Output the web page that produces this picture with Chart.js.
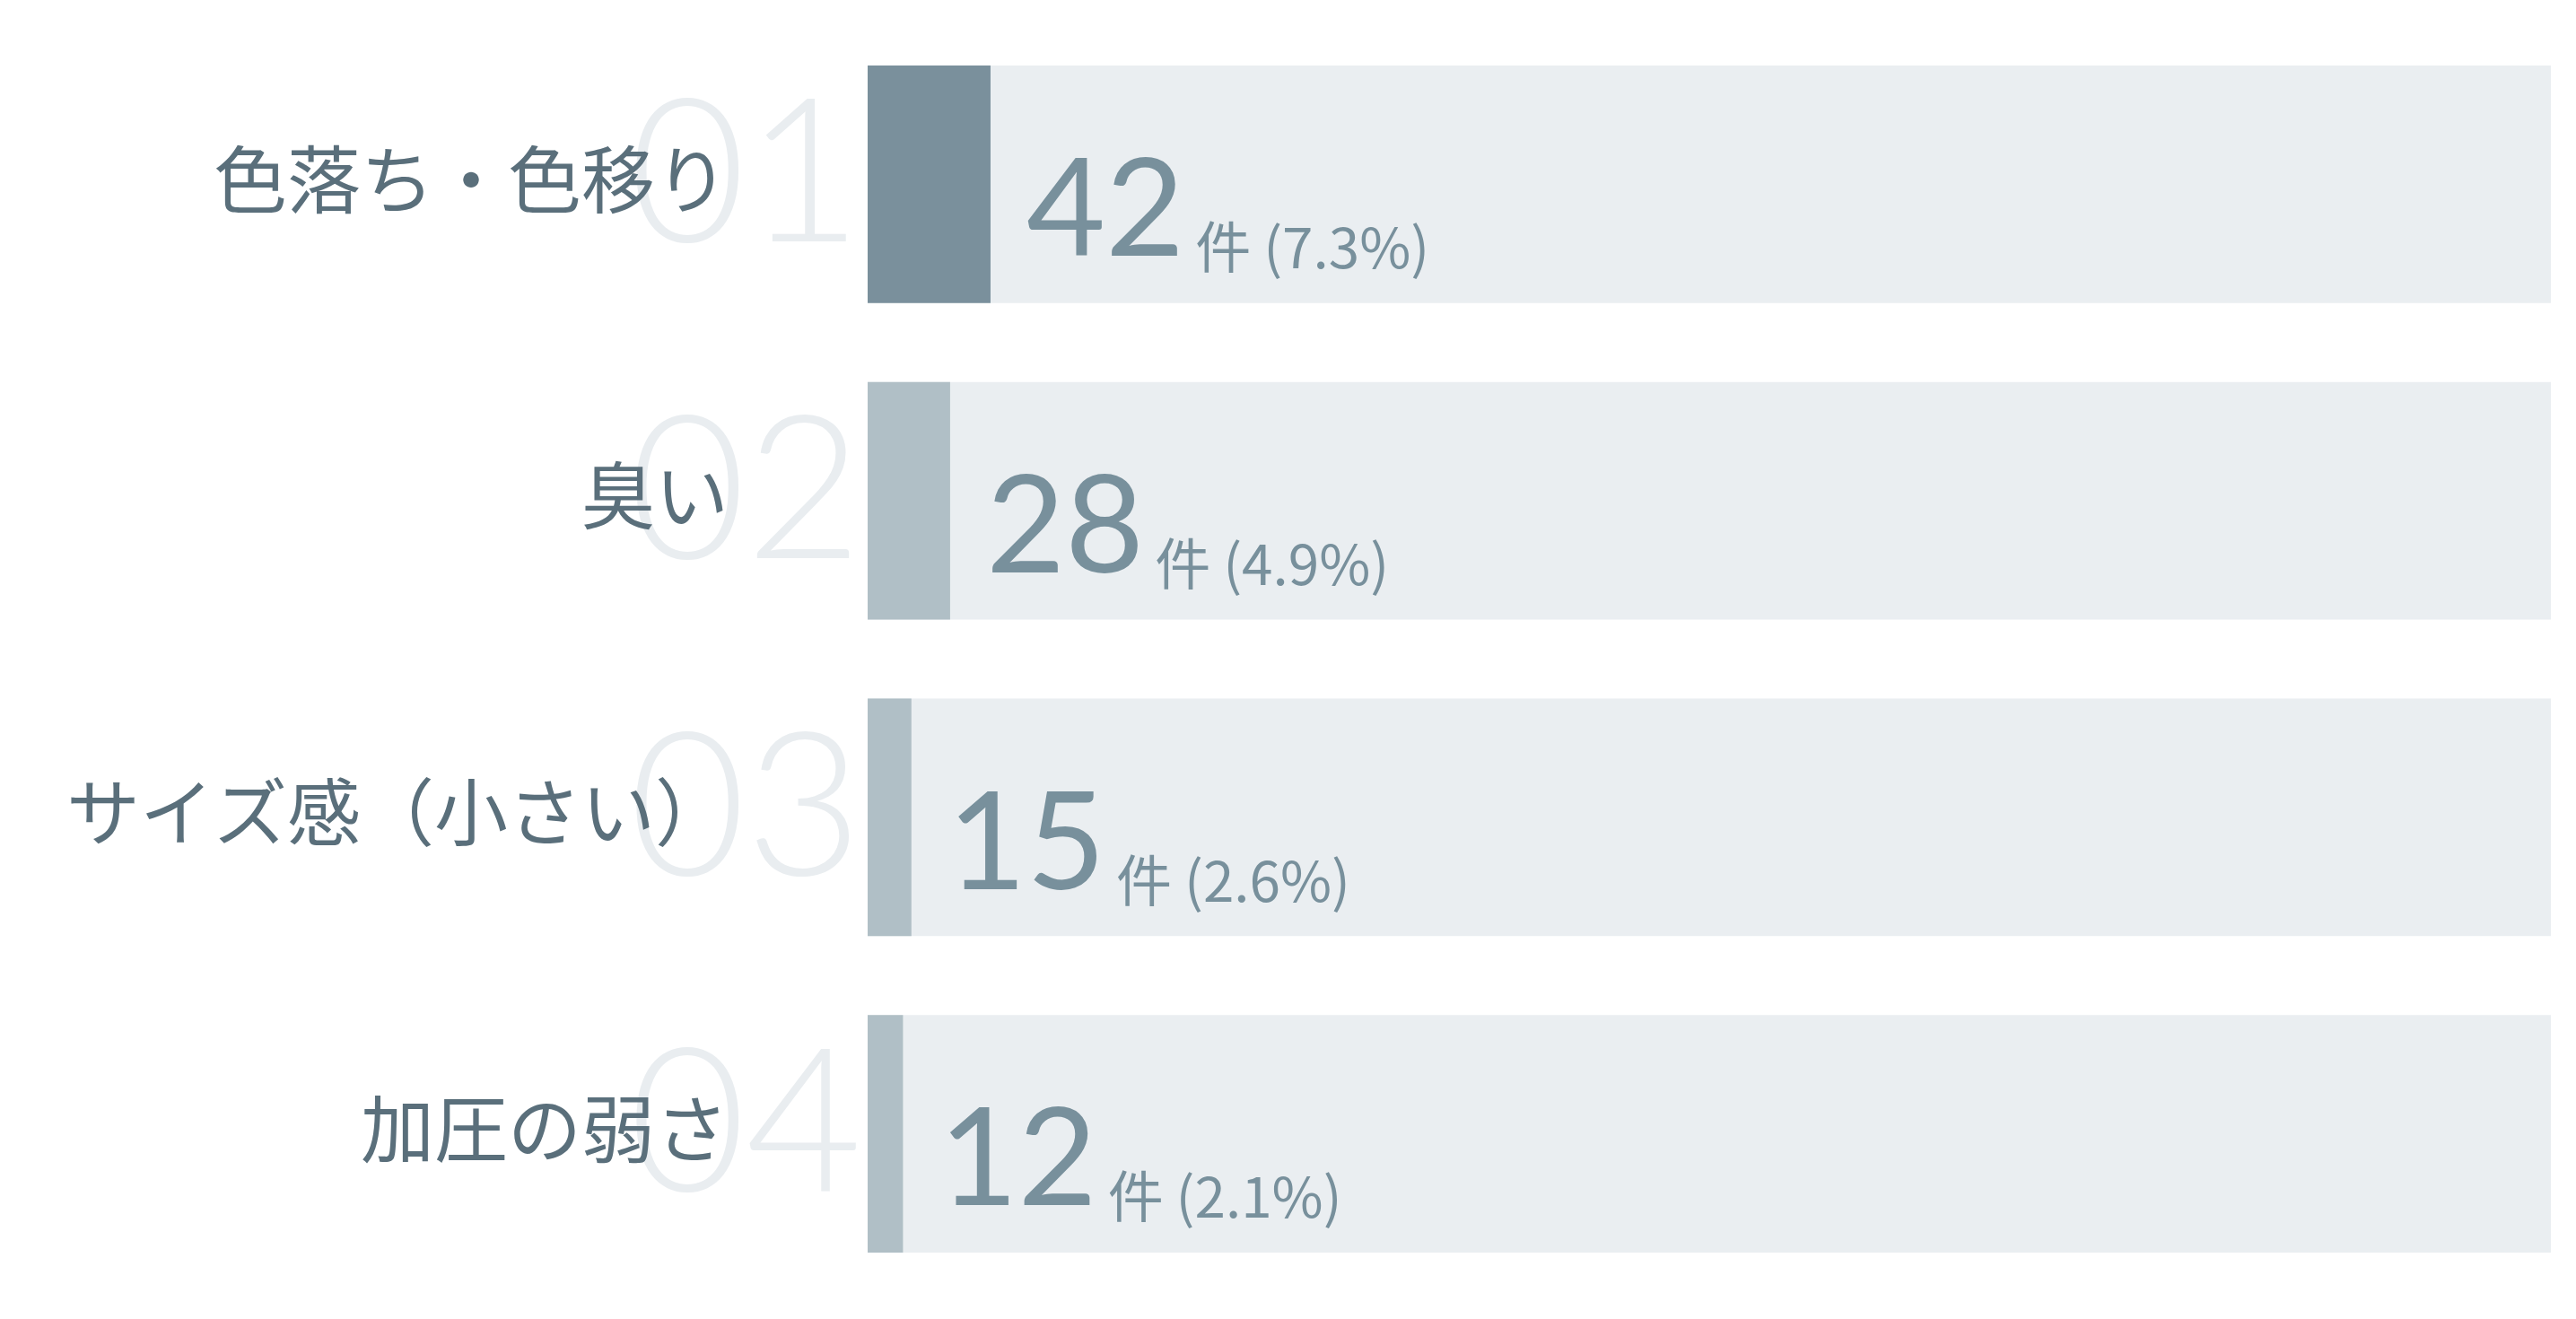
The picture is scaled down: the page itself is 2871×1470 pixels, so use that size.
<!DOCTYPE html>
<html>
  <head>
    <meta charset="utf-8" />
    <title>不満点ランキング</title>
    <script src="https://cdn.jsdelivr.net/npm/chart.js@4/dist/chart.umd.min.js"></script>
    <style>
      body { margin: 0; background: #ffffff; }
      #wrap { width: 2871px; height: 1470px; position: relative; }
    </style>
  </head>
  <body>
    <div id="wrap"><canvas id="myChart"></canvas></div>
    <script>
      const categories = ["色落ち・色移り", "臭い", "サイズ感（小さい）", "加圧の弱さ"];
      const counts = [42, 28, 15, 12];
      const percents = [7.3, 4.9, 2.6, 2.1];
      const ranks = ["01", "02", "03", "04"];
      const barColors = ["#7a909c", "#b0bfc6", "#b0bfc6", "#b0bfc6"];
      const track = [100, 100, 100, 100];

      const jp = '"Noto Sans CJK JP", sans-serif';
      const num = 'Lato, "Noto Sans", sans-serif';

      // rank numbers + category names behind/left of the bars, value text after them
      const rankPlugin = {
        id: "rankLabels",
        beforeDraw(chart) {
          const ctx = chart.ctx;
          const bars = chart.getDatasetMeta(0).data;
          const left = chart.chartArea.left;
          ctx.save();
          ctx.textAlign = "right";
          bars.forEach((bar, i) => {
            const top = bar.y - bar.height / 2;
            ctx.font = "300 224px " + num;
            ctx.fillStyle = "#e9edf0";
            ctx.textBaseline = "alphabetic";
            ctx.fillText(ranks[i], left - 6, top + 196);
            ctx.font = "400 82px " + jp;
            ctx.fillStyle = "#5a6f7b";
            ctx.textBaseline = "middle";
            ctx.fillText(categories[i], left - 155, bar.y - 6);
          });
          ctx.restore();
        },
        afterDatasetsDraw(chart) {
          const ctx = chart.ctx;
          const bars = chart.getDatasetMeta(0).data;
          ctx.save();
          ctx.fillStyle = "#78909c";
          ctx.textAlign = "left";
          ctx.textBaseline = "alphabetic";
          bars.forEach((bar, i) => {
            const top = bar.y - bar.height / 2;
            const x = bar.x + 40;
            ctx.font = "400 152px " + num;
            const big = String(counts[i]);
            ctx.fillText(big, x, top + 212);
            const w = ctx.measureText(big).width;
            ctx.font = "400 62px " + jp;
            ctx.fillText("件 (" + percents[i].toFixed(1) + "%)", x + w + 12, top + 226);
          });
          ctx.restore();
        },
      };

      const data = {
        labels: categories,
        datasets: [
          {
            data: percents,
            backgroundColor: barColors,
            grouped: false,
            categoryPercentage: 0.75,
            barPercentage: 1,
          },
          {
            data: track,
            backgroundColor: "#eaeef1",
            grouped: false,
            categoryPercentage: 0.75,
            barPercentage: 1,
          },
        ],
      };

      const config = {
        type: "bar",
        data: data,
        plugins: [rankPlugin],
        options: {
          indexAxis: "y",
          responsive: true,
          maintainAspectRatio: false,
          animation: false,
          layout: { padding: { top: 29, bottom: 30, right: 28, left: 967 } },
          plugins: {
            legend: { display: false },
            tooltip: { enabled: false },
          },
          scales: {
            x: { display: false, min: 0, max: 100 },
            y: { display: false },
          },
        },
      };

      const ctx = document.getElementById("myChart");
      const myChart = new Chart(ctx, config);
    </script>
  </body>
</html>
